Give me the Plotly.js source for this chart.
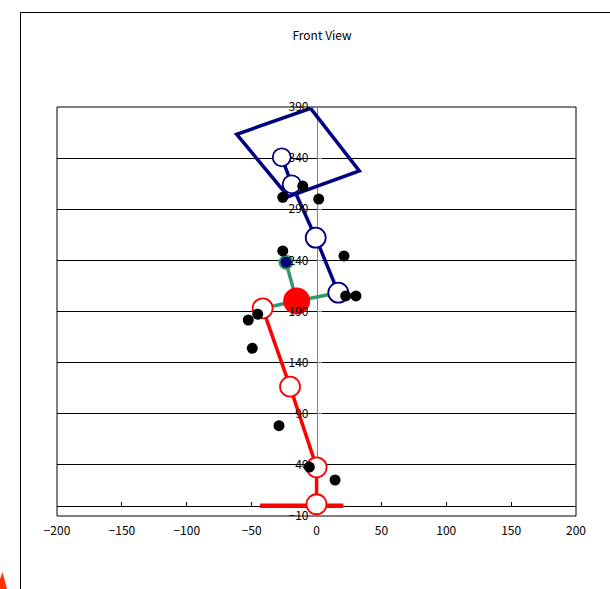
<!DOCTYPE html>
<html>
<head>
<meta charset="utf-8">
<script src="https://cdn.plot.ly/plotly-3.0.1.min.js"></script>
<style>html,body{margin:0;padding:0;background:#fff;}#chart{width:610px;height:589px;}</style>
</head>
<body>
<div id="chart"></div>
<script>
// Torso box (navy quadrilateral)
var boxX = [-4.5, -61.5, -21.7, 33.0, -4.5];
var boxY = [388.7, 363.3, 302.3, 327.4, 388.7];
// Spine (navy): head, neck, mid, hip
var spineX = [-26.8, -19.1, -0.6, 16.8];
var spineY = [340.8, 314.4, 262.2, 208.4];
// Green links
var armX = [-23.5, -15.3, 16.8];
var armY = [238.1, 200.3, 208.4];
var arm2X = [-15.3, -41.5];
var arm2Y = [200.3, 193.1];
// Red leg
var legX = [-41.5, -20.4, 0.1, 0.0];
var legY = [193.1, 116.5, 37.6, 1.5];
// Red foot
var footX = [-43.5, 20.7];
var footY = [0, 0];
// Centre of mass
var comX = [-15.3];
var comY = [200.3];
// Small dark joint
var jointX = [-23.5];
var jointY = [238.1];
// Black markers
var dotX = [-26.0, -10.6, 1.7, -26.0, 21.2, 22.5, 30.4, -45.3, -52.6, -49.5, -28.9, -5.5, 14.3];
var dotY = [301.7, 312.7, 300.0, 249.2, 244.3, 205.2, 205.2, 187.3, 181.7, 154.0, 78.3, 37.9, 25.2];
// Axis ticks
var xTicks = [-200, -150, -100, -50, 0, 50, 100, 150, 200];
var yTicks = [-10, 40, 90, 140, 190, 240, 290, 340, 390];

var NAVY = '#000080', RED = '#FF0000', GREEN = '#339966';

var traces = [
  {x: boxX, y: boxY, mode: 'lines', line: {color: NAVY, width: 3.5}},
  {x: armX, y: armY, mode: 'lines', line: {color: GREEN, width: 3.5}},
  {x: arm2X, y: arm2Y, mode: 'lines', line: {color: GREEN, width: 3.5}},
  {x: spineX, y: spineY, mode: 'lines+markers', line: {color: NAVY, width: 3.5},
   marker: {symbol: 'circle', size: [18, 18, 20, 20], opacity: 1, color: '#FFFFFF', line: {color: NAVY, width: 1.8}}},
  {x: footX, y: footY, mode: 'lines', line: {color: RED, width: 4.5}},
  {x: legX, y: legY, mode: 'lines+markers', line: {color: RED, width: 3.5},
   marker: {symbol: 'circle', size: 20, opacity: 1, color: '#FFFFFF', line: {color: RED, width: 1.8}}},
  {x: comX, y: comY, mode: 'markers', marker: {symbol: 'circle', size: 27, opacity: 1, color: RED}},
  {x: jointX, y: jointY, mode: 'markers', marker: {symbol: 'circle', size: 13, opacity: 1, color: NAVY, line: {color: GREEN, width: 2}}},
  {x: dotX, y: dotY, mode: 'markers', marker: {symbol: 'circle', size: 11, opacity: 1, color: '#000000'}}
];

var FONT = 'Noto Sans CJK JP, DejaVu Sans, sans-serif';

var layout = {
  width: 610, height: 589,
  margin: {l: 57, r: 34, t: 107, b: 73},
  paper_bgcolor: '#FFFFFF', plot_bgcolor: '#FFFFFF',
  showlegend: false, hovermode: false,
  font: {family: FONT, size: 12, color: '#000000'},
  title: {text: 'Front View', font: {family: FONT, size: 12, color: '#000000'},
          xref: 'container', x: 0.528, xanchor: 'center', yref: 'container', y: 1 - 36/589, yanchor: 'middle'},
  xaxis: {range: [-200, 200], tickvals: xTicks, ticks: '', showgrid: false, zeroline: false,
          showline: false, anchor: 'y', ticklabelstandoff: 6,
          tickfont: {family: FONT, size: 12, color: '#000000'}},
  xaxis2: {range: [-200, 200], tickvals: xTicks, overlaying: 'x', anchor: 'free', position: 10/400,
           showline: true, linecolor: '#000000', linewidth: 1, ticks: 'inside', ticklen: 4, tickcolor: '#000000',
           showticklabels: false, showgrid: false, zeroline: false, layer: 'below traces'},
  yaxis: {range: [-10, 390], tickvals: yTicks, anchor: 'free', position: 0.5,
          showline: false, ticks: '',
          showgrid: true, gridcolor: '#000000', gridwidth: 1, zeroline: false, ticklabelstandoff: 8,
          tickfont: {family: FONT, size: 12, color: '#000000'}},
  yaxis2: {range: [-10, 390], tickvals: yTicks, overlaying: 'y', anchor: 'free', position: 0.5, layer: 'below traces',
           showline: true, linecolor: '#808080', linewidth: 1.5, ticks: 'inside', ticklen: 4, tickcolor: '#808080',
           showticklabels: false, showgrid: false, zeroline: false},
  shapes: [
    {type: 'rect', xref: 'paper', yref: 'paper', x0: 0, x1: 1, y0: 0, y1: 1, line: {color: '#000000', width: 1}, layer: 'below'},
    {type: 'rect', xref: 'paper', yref: 'paper', x0: (20.5-57)/519, x1: (640-57)/519, y0: (516-12.5)/409, y1: (516-620)/409,
     line: {color: '#000000', width: 1}, layer: 'below'},
    {type: 'path', xref: 'paper', yref: 'paper',
     path: 'M ' + ((0-57)/519) + ',' + ((516-589)/409) + ' L ' + ((0-57)/519) + ',' + ((516-579)/409) +
           ' L ' + ((2.5-57)/519) + ',' + ((516-572)/409) + ' L ' + ((7-57)/519) + ',' + ((516-589)/409) + ' Z',
     fillcolor: '#FF3300', line: {width: 0}}
  ]
};

// invisible traces on the helper axes so they render
traces.unshift({x: [0], y: [0], xaxis: 'x2', yaxis: 'y2', mode: 'markers', marker: {opacity: 0}, hoverinfo: 'skip'});

Plotly.newPlot('chart', traces, layout, {displayModeBar: false, staticPlot: true});
</script>
</body>
</html>
